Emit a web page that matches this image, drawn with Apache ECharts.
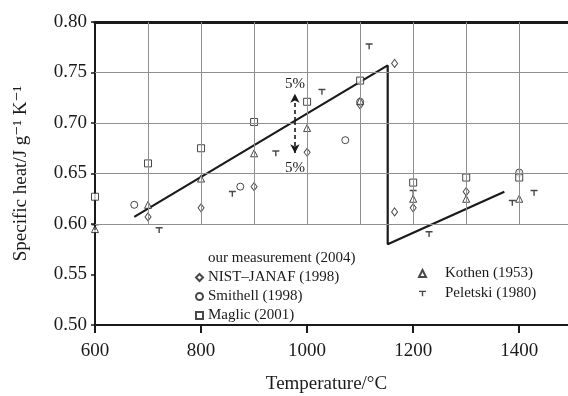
<!DOCTYPE html>
<html>
<head>
<meta charset="utf-8">
<script src="https://cdn.jsdelivr.net/npm/echarts@6/dist/echarts.min.js"></script>
<style>
  html, body { margin: 0; padding: 0; background: #fff; }
  #chart { width: 568px; height: 396px; }
</style>
</head>
<body>
<div id="chart"></div>
<script>
// values (temperature in °C, specific heat in J g-1 K-1)
const ourT = [674, 1152, 1152, 1372];
const ourCp = [0.607, 0.757, 0.580, 0.632];

const nistT = [700, 800, 900, 1000, 1100, 1165, 1165, 1200, 1300, 1400];
const nistCp = [0.607, 0.616, 0.637, 0.671, 0.718, 0.759, 0.612, 0.616, 0.632, 0.650];

const smithellT = [674, 874, 1072, 1100, 1400];
const smithellCp = [0.619, 0.637, 0.683, 0.721, 0.651];

const maglicT = [600, 700, 800, 900, 1000, 1100, 1200, 1300, 1400];
const maglicCp = [0.627, 0.660, 0.675, 0.701, 0.721, 0.742, 0.641, 0.646, 0.646];

const kothenT = [600, 700, 800, 900, 1000, 1100, 1200, 1300, 1400];
const kothenCp = [0.595, 0.619, 0.645, 0.670, 0.695, 0.722, 0.625, 0.625, 0.625];

const peletskiT = [600, 721, 859, 941, 1028, 1117, 1200, 1230, 1387, 1428];
const peletskiCp = [0.597, 0.594, 0.630, 0.670, 0.731, 0.776, 0.631, 0.590, 0.621, 0.631];

// 5% band arrows
const bandT = 977;
const bandMid = 0.702;
const bandUp = 0.729;
const bandDown = 0.670;

// the right edge of the figure is cropped just before 1500
const xMin = 600;
const xMax = 1492;
const xLabels = [600, 800, 1000, 1200, 1400];
const xGrid = [700, 800, 900, 1000, 1100, 1200, 1300, 1400];
const yGrid = [0.60, 0.65, 0.70, 0.75];

const pairs = (xs, ys) => xs.map((x, i) => [x, ys[i]]);

const ink = '#1a1a1a';
const serif = '"Liberation Serif", "DejaVu Serif", serif';
const teeSymbol = 'path://M0,0 L10,0 L10,2 L6,2 L6,8 L4,8 L4,2 L0,2 Z';

// grid lines only in the upper part (legend sits below 0.60)
const gridLines = [];
xGrid.forEach(x => gridLines.push([{ coord: [x, 0.60] }, { coord: [x, 0.80] }]));
yGrid.forEach(y => gridLines.push([{ coord: [xMin, y] }, { coord: [xMax, y] }]));

const hollow = { color: '#fff', borderColor: ink, borderWidth: 1 };

const myChart = echarts.init(document.getElementById('chart'));
myChart.setOption({
    animation: false,
    grid: { left: 95, top: 22, right: 0, bottom: 71, outerBoundsMode: 'none' },
    legend: [
        {
            orient: 'vertical',
            left: 190,
            top: 246,
            itemWidth: 7,
            itemHeight: 7,
            itemGap: 4,
            textStyle: { fontFamily: serif, fontSize: 15, color: ink },
            data: [
                { name: 'our measurement (2004)', icon: 'none' },
                'NIST–JANAF (1998)',
                'Smithell (1998)',
                'Maglic (2001)',
            ],
        },
        {
            orient: 'vertical',
            left: 413,
            top: 261,
            itemWidth: 7,
            itemHeight: 7,
            itemGap: 5,
            textStyle: { fontFamily: serif, fontSize: 15, color: ink, padding: [0, 0, 0, 14] },
            data: ['Kothen (1953)', 'Peletski (1980)'],
        },
    ],
    xAxis: [
        {
            type: 'value',
            min: xMin,
            max: xMax,
            interval: 200,
            axisLine: { lineStyle: { color: ink, width: 2 } },
            axisTick: {
                show: true,
                length: 8,
                customValues: xLabels,
                lineStyle: { color: ink, width: 2 },
            },
            splitLine: { show: false },
            axisLabel: {
                margin: 17,
                fontFamily: serif,
                fontSize: 19,
                color: ink,
                customValues: xLabels,
                formatter: v => (xLabels.includes(v) ? String(v) : ''),
            },
            name: 'Temperature/°C',
            nameLocation: 'middle',
            nameGap: 50,
            nameTextStyle: { fontFamily: serif, fontSize: 19, color: ink, padding: [0, 10, 0, 0] },
        },
        {
            type: 'value',
            position: 'top',
            min: xMin,
            max: xMax,
            axisLine: { show: true, lineStyle: { color: ink, width: 3 } },
            axisTick: { show: false },
            axisLabel: { show: false },
            splitLine: { show: false },
        },
    ],
    yAxis: {
        type: 'value',
        min: 0.5,
        max: 0.8,
        interval: 0.05,
        axisLine: { show: true, lineStyle: { color: ink, width: 2 } },
        axisTick: { show: true, length: 4, lineStyle: { color: ink, width: 1.5 } },
        splitLine: { show: false },
        axisLabel: {
            margin: 8,
            fontFamily: serif,
            fontSize: 19,
            color: ink,
            formatter: v => v.toFixed(2),
        },
        name: 'Specific heat/J g⁻¹ K⁻¹',
        nameLocation: 'middle',
        nameRotate: 90,
        nameGap: 64,
        nameTextStyle: { fontFamily: serif, fontSize: 19, color: ink },
    },
    series: [
        {
            name: 'gridlines',
            type: 'line',
            data: [],
            silent: true,
            z: 1,
            markLine: {
                silent: true,
                symbol: 'none',
                animation: false,
                label: { show: false },
                lineStyle: { color: '#8f8f8f', width: 1, type: 'solid' },
                emphasis: { disabled: true },
                data: gridLines,
            },
        },
        {
            name: 'our measurement (2004)',
            type: 'line',
            data: pairs(ourT, ourCp),
            showSymbol: false,
            symbol: 'none',
            lineStyle: { color: ink, width: 2.2 },
            z: 3,
            markLine: {
                silent: true,
                animation: false,
                symbol: ['none', 'arrow'],
                symbolSize: [7, 9],
                lineStyle: { color: ink, width: 1.6, type: [4, 3] },
                label: {
                    show: true,
                    position: 'end',
                    distance: 2,
                    formatter: '5%',
                    fontFamily: serif,
                    fontSize: 15,
                    color: ink,
                },
                data: [
                    [{ coord: [bandT, bandMid] }, { coord: [bandT, bandUp] }],
                    [{ coord: [bandT, bandMid] }, { coord: [bandT, bandDown], label: { distance: 7 } }],
                ],
            },
        },
        {
            name: 'NIST–JANAF (1998)',
            type: 'scatter',
            data: pairs(nistT, nistCp),
            symbol: 'diamond',
            symbolSize: [6, 8],
            itemStyle: hollow,
            z: 4,
        },
        {
            name: 'Smithell (1998)',
            type: 'scatter',
            data: pairs(smithellT, smithellCp),
            symbol: 'circle',
            symbolSize: 7,
            itemStyle: hollow,
            z: 4,
        },
        {
            name: 'Maglic (2001)',
            type: 'scatter',
            data: pairs(maglicT, maglicCp),
            symbol: 'rect',
            symbolSize: 7,
            itemStyle: hollow,
            z: 4,
        },
        {
            name: 'Kothen (1953)',
            type: 'scatter',
            data: pairs(kothenT, kothenCp),
            symbol: 'triangle',
            symbolSize: 7,
            itemStyle: hollow,
            z: 4,
        },
        {
            name: 'Peletski (1980)',
            type: 'scatter',
            data: pairs(peletskiT, peletskiCp),
            symbol: teeSymbol,
            symbolSize: [7, 6],
            itemStyle: { color: ink },
            z: 4,
        },
    ],
});
</script>
</body>
</html>
